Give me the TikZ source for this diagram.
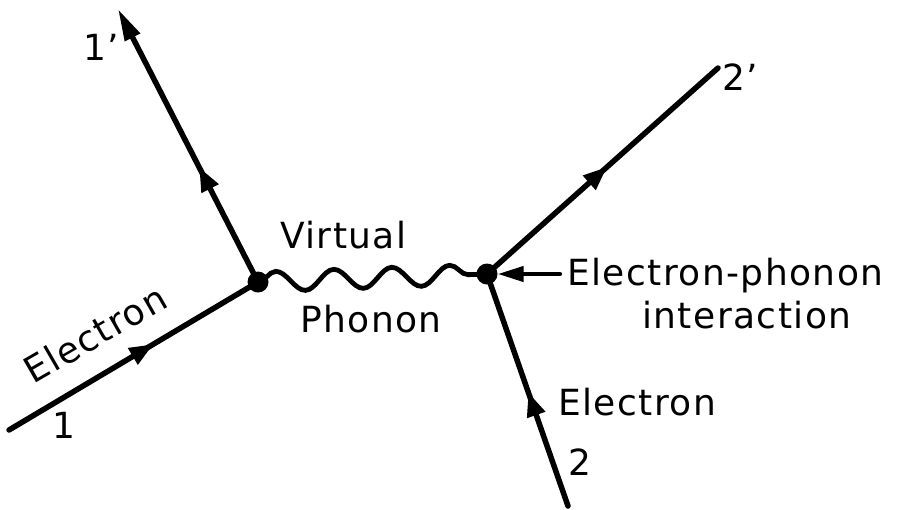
\documentclass[tikz,border=0pt]{standalone}
\usepackage{fontspec}
\setmainfont{DejaVu Sans}[LetterSpace=4]
\usetikzlibrary{arrows.meta,decorations.markings,decorations.pathmorphing}

\begin{document}
\begin{tikzpicture}[x=1pt,y=-1pt,line cap=round,
  fermion/.style={line width=5.5pt, postaction={decorate},
    decoration={markings, mark=at position #1 with {\arrow{Triangle[length=24pt,width=18pt]}}}},
  phonon/.style={line width=4.8pt, decorate,
    decoration={snake, segment length=58pt, amplitude=10pt}},
  vertex/.style={circle, fill, inner sep=0pt, minimum size=21pt},
  lab/.style={font=\fontsize{36}{40}\selectfont, inner sep=0pt}]

  \useasboundingbox (0,0) rectangle (909,509);

  % interaction vertices
  \node[vertex] (L) at (258,282) {};
  \node[vertex] (R) at (487,274) {};

  % free ends of the electron lines
  \coordinate (e1)  at (9,430);
  \coordinate (e1p) at (118,9);
  \coordinate (e2)  at (568,506);
  \coordinate (e2p) at (718,68);
  \coordinate (ip)  at (560,274);

  % electron lines
  \draw[fermion=0.58] (e1) -- (L.center);
  \draw[fermion=0.42, -{Triangle[length=32pt,width=16pt]}] (L.center) -- (e1p);
  \draw[fermion=0.52] (R.center) -- (e2p);
  \draw[fermion=0.49] (e2) -- (R.center);

  % exchanged phonon
  \draw[phonon] (L.center) -- (R.center);

  % pointer to the vertex
  \draw[line width=4.2pt, -{Triangle[length=26pt,width=15pt]}] (ip) -- (R);

  % labels
  \node[lab, anchor=base west, rotate=30] (tEl1) at (33,385) {Electron};
  \node[lab] (t1)  at (64,425) {1};
  \node[lab] (t1p) at (101,47) {1'};
  \node[lab] (t2p) at (740,77) {2'};
  \node[lab] (t2)  at (580,462) {2};
  \node[lab, anchor=base west] (tV)  at (280,248) {Virtual};
  \node[lab, anchor=base west] (tP)  at (300,332) {Phonon};
  \node[lab, anchor=base west] (tEP) at (567,285) {Electron-phonon};
  \node[lab, anchor=base west] (tI)  at (642,328) {interaction};
  \node[lab, anchor=base west] (tEl2) at (558,415) {Electron};
\end{tikzpicture}
\end{document}
